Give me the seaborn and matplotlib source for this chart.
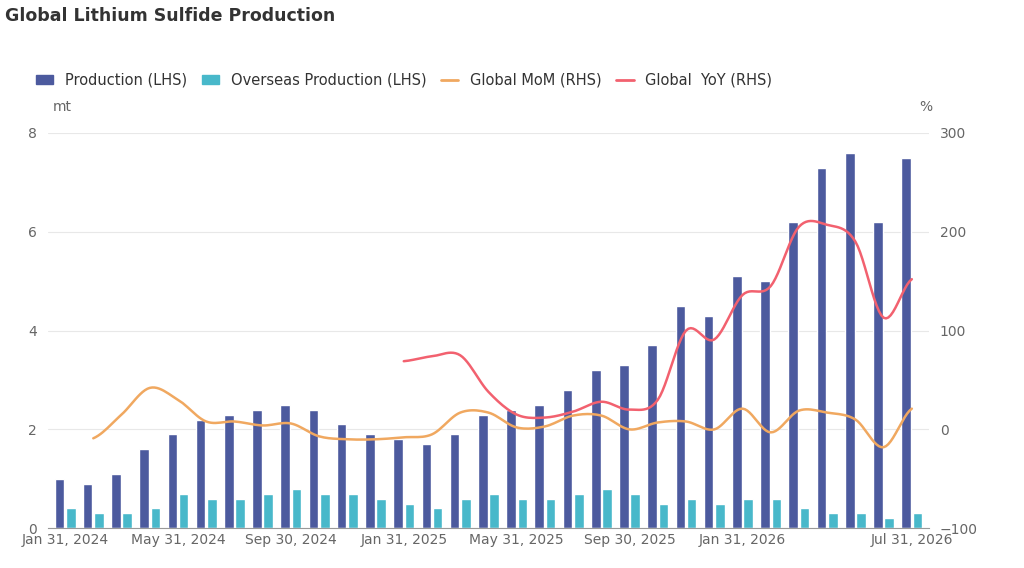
import numpy as np
import pandas as pd
import matplotlib.pyplot as plt
import seaborn as sns
from matplotlib.patches import Patch
from matplotlib.lines import Line2D

months = pd.date_range('2024-01-31', '2026-07-31', freq='ME')
production = [1.0, 0.9, 1.1, 1.6, 1.9, 2.2, 2.3, 2.4, 2.5, 2.4, 2.1, 1.9,
              1.8, 1.7, 1.9, 2.3, 2.4, 2.5, 2.8, 3.2, 3.3, 3.7, 4.5, 4.3,
              5.1, 5.0, 6.2, 7.3, 7.6, 6.2, 7.5]
overseas = [0.4, 0.3, 0.3, 0.4, 0.7, 0.6, 0.6, 0.7, 0.8, 0.7, 0.7, 0.6,
            0.5, 0.4, 0.6, 0.7, 0.6, 0.6, 0.7, 0.8, 0.7, 0.5, 0.6, 0.5,
            0.6, 0.6, 0.4, 0.3, 0.3, 0.2, 0.3]
mom = [np.nan, -9, 15, 42, 30, 8, 8, 4, 6, -7, -10, -10,
       -8, -5, 17, 17, 2, 3, 14, 14, 0, 7, 8, 0,
       21, -3, 19, 17, 10, -18, 21]
yoy = [np.nan] * 12 + [69, 74, 75, 38, 15, 12, 18, 28, 20, 30, 100, 91,
                       136, 145, 205, 207, 190, 113, 152]

labels = [d.strftime('%b %d, %Y').replace(' 0', ' ') for d in months]

df = pd.DataFrame({'month': labels, 'Production (LHS)': production,
                   'Overseas Production (LHS)': overseas})
long = df.melt(id_vars='month', var_name='series', value_name='mt')


def smooth(y, n=12):
    # Catmull-Rom through the given points, only used for drawing
    idx = np.where(~np.isnan(y))[0]
    x = idx.astype(float)
    v = np.asarray(y, float)[idx]
    xs, ys = [], []
    for i in range(len(x) - 1):
        p0 = v[max(i - 1, 0)]; p1 = v[i]; p2 = v[i + 1]; p3 = v[min(i + 2, len(v) - 1)]
        t = np.linspace(0, 1, n, endpoint=False)
        ys.append(0.5 * (2 * p1 + (-p0 + p2) * t + (2 * p0 - 5 * p1 + 4 * p2 - p3) * t ** 2
                         + (-p0 + 3 * p1 - 3 * p2 + p3) * t ** 3))
        xs.append(x[i] + t)
    xs.append([x[-1]]); ys.append([v[-1]])
    return np.concatenate(xs), np.concatenate(ys)


sns.set_style('white')
plt.rcParams['font.family'] = ['DejaVu Sans']
fig = plt.figure(figsize=(10.24, 5.68), dpi=100)
ax = fig.add_axes([0.047, 0.07, 0.86, 0.696])

navy, cyan, orange, red = '#4c5a9e', '#48b8ca', '#f0a860', '#f2616f'
sns.barplot(data=long, x='month', y='mt', hue='series', palette=[navy, cyan],
            width=0.8, gap=0.15, saturation=1, ax=ax, legend=False)
ax.set_ylim(0, 8)
ax.set_yticks([0, 2, 4, 6, 8])
ax.yaxis.grid(True, color='#e8e8e8')
ax.set_axisbelow(True)
ax.set_xlabel(''); ax.set_ylabel('')
ticks = [0, 4, 8, 12, 16, 20, 24, 30]
ax.set_xticks(ticks)
ax.set_xticklabels([labels[i] for i in ticks])
ax.tick_params(colors='#666666', labelsize=10, length=0)
ax.tick_params(axis='y', pad=8)
ax.set_xlim(-0.6, 30.6)
for s in ['top', 'right', 'left']:
    ax.spines[s].set_visible(False)
ax.spines['bottom'].set_color('#999999')

ax2 = ax.twinx()
xm, ym = smooth(mom)
xy, yy = smooth(yoy)
sns.lineplot(x=xm, y=ym, color=orange, lw=1.8, ax=ax2, sort=False)
sns.lineplot(x=xy, y=yy, color=red, lw=1.8, ax=ax2, sort=False)
ax2.set_ylim(-100, 300)
ax2.set_yticks([-100, 0, 100, 200, 300])
ax2.tick_params(colors='#666666', labelsize=10, length=0, pad=8)
for s in ax2.spines.values():
    s.set_visible(False)

fig.text(0.052, 0.805, 'mt', color='#666666', fontsize=10)
fig.text(0.898, 0.805, '%', color='#666666', fontsize=10)
fig.text(0.005, 0.963, 'Global Lithium Sulfide Production', fontsize=12.5,
         fontweight='bold', color='#333333')

handles = [Patch(color=navy), Patch(color=cyan),
           Line2D([], [], color=orange, lw=2), Line2D([], [], color=red, lw=2)]
names = ['Production (LHS)', 'Overseas Production (LHS)', 'Global MoM (RHS)', 'Global  YoY (RHS)']
fig.legend(handles, names, loc='upper left', bbox_to_anchor=(0.022, 0.895), ncol=4,
           frameon=False, fontsize=10.5, handlelength=1.2, handleheight=0.5,
           columnspacing=1.0, labelcolor='#333333')

fig.savefig('out.png', dpi=100)
